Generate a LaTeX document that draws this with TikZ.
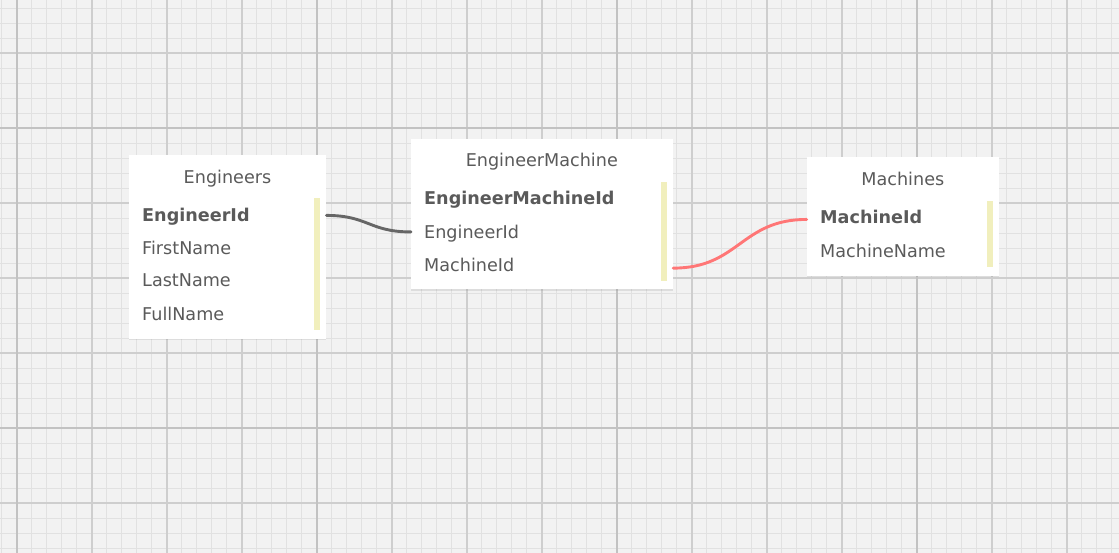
\documentclass[tikz,border=0pt]{standalone}
\usepackage{fontspec}
\setmainfont{DejaVu Sans}
\usetikzlibrary{shadows,calc}
\definecolor{bg}{HTML}{F2F2F2}
\definecolor{gminor}{HTML}{E1E1E1}
\definecolor{gmajor}{HTML}{CECECE}
\definecolor{gdark}{HTML}{C2C2C2}
\definecolor{txt}{HTML}{5A5A5A}
\definecolor{barc}{HTML}{F1EFBD}
\definecolor{relgray}{HTML}{666666}
\definecolor{relred}{HTML}{FF7676}
\tikzset{
  minorline/.style={gminor, line width=1.4pt},
  majorline/.style={gmajor, line width=1.8pt},
  darkline/.style={gdark, line width=1.9pt},
  tbl/.style={fill=white, draw=none, anchor=north west, inner sep=0pt,
    drop shadow={opacity=0.18, shadow xshift=0pt, shadow yshift=-1.2pt}},
  ttl/.style={anchor=base, text=txt, font=\fontsize{17.6}{20}\selectfont, inner sep=2pt},
  fld/.style={anchor=base west, text=txt, font=\fontsize{17.6}{20}\selectfont, inner sep=0pt},
  bar/.style={fill=barc, draw=none},
  conn/.style={line width=2.9pt, line cap=round},
}
\begin{document}
\begin{tikzpicture}[x=1pt,y=-1pt]
\useasboundingbox (0,0) rectangle (1119,553);
\fill[bg] (0,0) rectangle (1119,553);
% grid
\foreach \i in {0,...,74} \draw[minorline] ({1.667+15*\i},0) -- ({1.667+15*\i},553);
\foreach \i in {0,...,36} \draw[minorline] (0,{8.333+15*\i}) -- (1119,{8.333+15*\i});
\foreach \i in {0,...,14} \draw[majorline] ({16.667+75*\i},0) -- ({16.667+75*\i},553);
\foreach \i in {0,...,6} \draw[majorline] (0,{53.333+75*\i}) -- (1119,{53.333+75*\i});
\foreach \i in {0,...,3} \draw[darkline] ({16.667+300*\i},0) -- ({16.667+300*\i},553);
\foreach \i in {0,1} \draw[darkline] (0,{128.333+300*\i}) -- (1119,{128.333+300*\i});

% Engineers
\node[tbl, minimum width=197pt, minimum height=184pt] (eng) at (129,155) {};
\node[ttl] (engT) at (227.5,183.3) {Engineers};
\node[fld] (engId) at (142,221.7) {\textbf{EngineerId}};
\node[fld] (engFn) at (142,254.3) {FirstName};
\node[fld] (engLn) at (142,287) {LastName};
\node[fld] (engFu) at (142,320) {FullName};
\fill[bar] (314,198) rectangle (320,330);

% EngineerMachine
\node[tbl, minimum width=261.7pt, minimum height=150pt] (em) at (411,139.3) {};
\node[ttl] (emT) at (541.8,166.7) {EngineerMachine};
\node[fld] (emId) at (424,205) {\textbf{EngineerMachineId}};
\node[fld] (emEng) at (424,238.3) {EngineerId};
\node[fld] (emMac) at (424,271.7) {MachineId};
\fill[bar] (661,181.7) rectangle (666.7,280.7);

% Machines
\node[tbl, minimum width=192.3pt, minimum height=118.7pt] (mac) at (806.7,157.3) {};
\node[ttl] (macT) at (902.8,185.7) {Machines};
\node[fld] (macId) at (820,224) {\textbf{MachineId}};
\node[fld] (macNm) at (820,257.3) {MachineName};
\fill[bar] (987,201) rectangle (993,266.7);

% connectors
\draw[conn, relgray] ($(eng.east |- engId)+(0,-1.5)$) .. controls +(42,0) and +(-42,0) .. ($(em.west |- emEng)+(0,-1.5)$);
\draw[conn, relred] ($(em.east |- emMac)+(0,3)$) .. controls +(66,0) and +(-66,0) .. ($(mac.west |- macId)+(0,2)$);
\end{tikzpicture}
\end{document}
